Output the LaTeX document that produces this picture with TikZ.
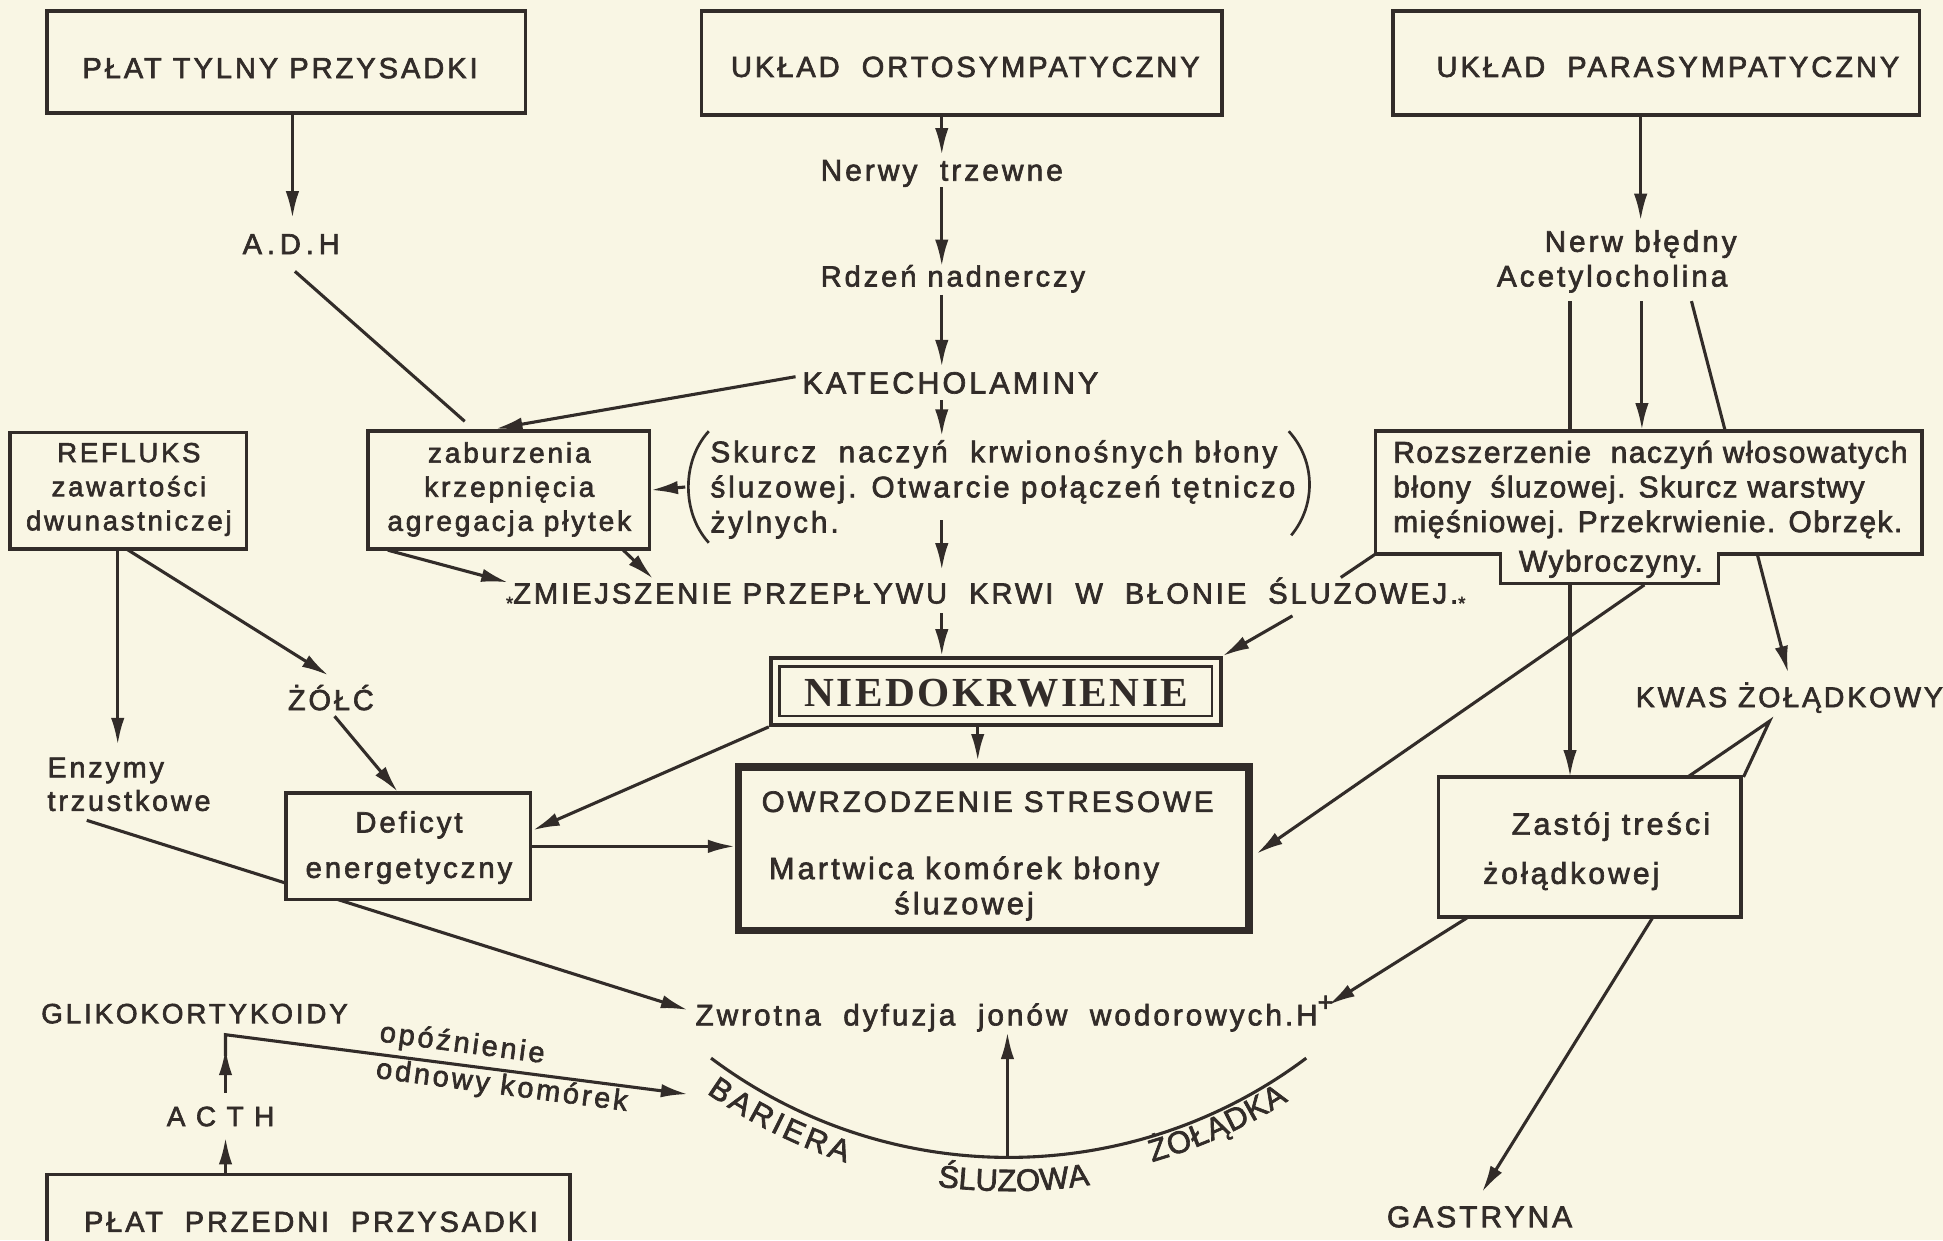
\documentclass[tikz,border=0pt]{standalone}
\usepackage{fontspec}
\setmainfont{Liberation Sans}
\newfontfamily\lab[LetterSpace=10,FakeBold=2.2]{Liberation Sans}
\newfontfamily\labn[LetterSpace=5,FakeBold=2.2]{Liberation Sans}
\newfontfamily\serb[LetterSpace=6]{Liberation Serif}
\usetikzlibrary{arrows.meta,fit,decorations.text}
\definecolor{paper}{RGB}{249,246,228}
\definecolor{ink}{RGB}{50,44,41}
\newcommand\fsz[2]{\fontsize{#1pt}{#2pt}\selectfont}
\newcommand\arcfont{\lab\fsz{15}{17}}
\pgfdeclarelayer{bg}
\pgfdeclarelayer{back}
\pgfsetlayers{bg,back,main}
\begin{document}
\begin{tikzpicture}[x=0.6pt,y=-0.6pt,
  every node/.style={inner sep=0pt,text=ink},
  box/.style={draw=ink,line width=1.7pt,fill=paper},
  ln/.style={draw=ink,line width=1.5pt},
  arr/.style={ln,-{Latex[length=13pt,width=6.5pt]}},
  lbl/.style={font=\lab\fsz{14}{16.8}},
  lbltop/.style={font=\lab\fsz{14.1}{16}},
]
\begin{pgfonlayer}{bg}
\fill[paper] (0,0) rectangle (1568,1001);
\end{pgfonlayer}
\useasboundingbox (0,0) rectangle (1568,1001);

% ---------- lines passing behind boxes ----------
\begin{pgfonlayer}{back}
\draw[arr] (70,662) -- (555,815);
\draw[arr] (1267,243) -- (1267,627);
\draw[arr] (1365,243) -- (1443,543);
\end{pgfonlayer}

% ---------- top boxes ----------
\node[box,fit={(38,9) (424,91)}] (b1) {};
\node[lbltop] (t1) at (226,55) {PŁAT TYLNY PRZYSADKI};
\node[box,fit={(566,9) (986,93)}] (b2) {};
\node[lbltop] (t2) at (779,54) {UKŁAD\ \ ORTOSYMPATYCZNY};
\node[box,fit={(1124,9) (1549,93)}] (b3) {};
\node[lbltop] (t3) at (1346,54) {UKŁAD\ \ PARASYMPATYCZNY};

% ---------- left column top ----------
\node[lbltop] (adh) at (235,197) {A\,.\,D\,.\,H};
\coordinate (adhIn) at (236,176);
\draw[arr] (b1.south -| adhIn) -- (adhIn);

\node[box,fit={(297,348) (524,443)}] (zab) {};
\node[lbl,align=center,font=\lab\fsz{13.6}{16.5}] (zabt) at (411,395) {zaburzenia\\krzepnięcia\\agregacja płytek};
\coordinate (adhOut) at (238,219);
\coordinate (zabTop) at (375,340);
\draw[ln] (adhOut) -- (zabTop);

% ---------- central chain ----------
\coordinate (ax) at (760,0);
\node[lbl,font=\lab\fsz{14.5}{16}] (nerwy) at (760,140) {Nerwy\ \ trzewne};
\node[lbl,font=\lab\fsz{14.1}{16}] (rdzen) at (769,225) {Rdzeń nadnerczy};
\node[lbl,font=\lab\fsz{14.8}{16}] (kat) at (767,309) {KATECHOLAMINY};
\draw[arr] (b2.south -| ax) -- (760,125);
\draw[arr] (760,151) -- (760,215);
\draw[arr] (760,238) -- (760,296);
\draw[arr] (760,323) -- (760,352);
\draw[arr] (760,420) -- (760,460);
\coordinate (katL) at (642,304);
\coordinate (zabIn) at (400,346);
\draw[arr] (katL) -- (zabIn);

\node[lbl,align=left,anchor=west,font=\lab\fsz{14.4}{17}] (skurcz) at (573,395)
  {Skurcz\ \ naczyń\ \ krwionośnych błony\\śluzowej. Otwarcie połączeń tętniczo\\żylnych.};
\draw[ln,line width=1.3pt] (572,348) .. controls (550,372) and (550,414) .. (572,438);
\draw[ln,line width=1.3pt] (1040,348) .. controls (1062,372) and (1062,408) .. (1042,432);
\coordinate (skL) at (553,393);
\draw[arr] (skL) -- (zab.east);

\node[lbl,anchor=west,font=\lab\fsz{14.1}{15}] (zmn) at (408,479)
  {\raisebox{-0.4ex}{\fsz{9}{10}*}ZMIEJSZENIE PRZEPŁYWU\ \ KRWI\ \ W\ \ BŁONIE\ \ ŚLUZOWEJ.\raisebox{-0.4ex}{\fsz{9}{10}*}};
\draw[arr] (313,444) -- (410,470);
\draw[arr] (503,444) -- (527,467);

% ---------- NIEDOKRWIENIE ----------
\node[draw=ink,line width=1.9pt,fit={(622,531) (985,585)}] (niedo) {};
\node[draw=ink,line width=1.2pt,fit={(629,538) (978,578)}] (niedoin) {};
\node[font=\serb\bfseries\fsz{20}{21}] (niedot) at (804,559) {NIEDOKRWIENIE};
\draw[arr] (760,495) -- (niedo.north -| ax);

% ---------- OWRZODZENIE ----------
\node[draw=ink,line width=3.6pt,fit={(596,619) (1008,751)}] (owrz) {};
\node[lbl,font=\lab\fsz{14.3}{16}] (owrzt) at (797,647) {OWRZODZENIE STRESOWE};
\node[lbl,align=center,font=\lab\fsz{14.9}{17}] (martw) at (778,717) {Martwica komórek błony\\śluzowej};
\draw[arr] (789,587) -- (789,614);

% ---------- Deficyt ----------
\node[box,fit={(231,640) (428,726)}] (def) {};
\node[lbl,align=center,font=\lab\fsz{14.2}{22}] (deft) at (330,684) {Deficyt\\energetyczny};
\draw[arr] (niedo.south west) -- (430,670);
\draw[arr] (def.east) -- (def.east -| owrz.west);

% ---------- REFLUKS ----------
\node[box,fit={(8,349) (199,443)}] (refl) {};
\node[lbl,align=center,font=\lab\fsz{13.3}{16.5}] (reflt) at (104,395) {REFLUKS\\zawartości\\dwunastniczej};
\node[lbl,align=left,anchor=west,font=\lab\fsz{13.9}{16.2}] (enz) at (38,633) {Enzymy\\trzustkowe};
\node[lbl] (zolc) at (267,563) {ŻÓŁĆ};
\draw[arr] (95,443) -- (95,601);
\draw[arr] (102,443) -- (265,545);
\draw[arr] (270,578) -- (321,639);

% ---------- Zwrotna ----------
\node[lbl,anchor=west,font=\lab\fsz{14.4}{16}] (zwr) at (561,818)
  {Zwrotna\ \ dyfuzja\ \ jonów\ \ wodorowych.H\raisebox{0.9ex}{\fsz{13}{13}+}};

% ---------- right column ----------
\node[lbl,font=\lab\fsz{14.4}{16}] (nb) at (1324,197) {Nerw błędny};
\node[lbl,font=\lab\fsz{14.4}{16}] (acet) at (1301,225) {Acetylocholina};
\coordinate (bx) at (1324,0);
\draw[arr] (b3.south -| bx) -- (1324,178);
\draw[arr] (1325,243) -- (1325,347);

\draw[box] (1110,348) -- (1551,348) -- (1551,447) -- (1387,447) -- (1387,471)
  -- (1211,471) -- (1211,447) -- (1110,447) -- cycle;
\node[fit={(1110,348) (1551,447)}] (rozs) {};
\node[lbl,align=left,anchor=west,font=\labn\fsz{14.5}{16.8}] (rozst) at (1124,395)
  {Rozszerzenie\ \ naczyń włosowatych\\błony\ \ śluzowej. Skurcz warstwy\\mięśniowej. Przekrwienie. Obrzęk.};
\node[lbl,font=\labn\fsz{14.5}{16}] (wybr) at (1300,455) {Wybroczyny.};
\draw[ln] (rozs.south west) -- (1082,466);
\draw[arr] (1043,497) -- (niedo.north east);
\draw[arr] (1327,472) -- (1014,689);

\node[lbl,font=\lab\fsz{13.8}{14}] (kwas) at (1444,563) {KWAS ŻOŁĄDKOWY};
\node[box,fit={(1161,627) (1405,740)}] (zast) {};
\node[lbl,font=\lab\fsz{14.8}{16}] (zast1) at (1300,667) {Zastój treści};
\node[lbl,font=\lab\fsz{14.6}{16}] (zast2) at (1268,707) {żołądkowej};
\draw[ln] (1362,627) -- (1428,582) -- (1407,627);
\draw[arr] (1185,740) -- (1072,811);
\draw[arr] (1334,740) -- (1196,962);
\node[lbl,font=\lab\fsz{14.5}{16}] (gas) at (1194,982) {GASTRYNA};

% ---------- bottom left ----------
\node[lbl,font=\lab\fsz{13.5}{16}] (gliko) at (157,818) {GLIKOKORTYKOIDY};
\node[lbl,font=\lab\fsz{13.5}{16}] (acth) at (178,901) {A C T H};
\node[box,fit={(38,948) (460,1040)}] (przed) {};
\node[lbl] (przedt) at (251,986) {PŁAT\ \ PRZEDNI\ \ PRZYSADKI};
\draw[arr] (182,948) -- (182,918);
\draw[arr] (182,882) -- (182,846);
\draw[arr] (182,852) -- (182,835) -- (555,883);
\node[lbl,rotate=-7.5] (opoz) at (373,843) {opóźnienie};
\node[lbl,rotate=-7.5] (odn) at (405,877) {odnowy komórek};

% ---------- barrier ----------
\draw[ln] (573.8,853.9) arc[start angle=126.9,end angle=53.1,radius=400];
\draw[arr] (813,934) -- (813,833);
\path[decorate,decoration={text along path,text={|\arcfont|BARIERA},text align={fit to path},text color=ink}]
  (570.2,882.1) arc[start angle=125,end angle=108,radius=425];
\path[decorate,decoration={text along path,text={|\arcfont|ŚLUZOWA},text align={fit to path},text color=ink}]
  (756.5,957.4) arc[start angle=97.7,end angle=82.1,radius=427];
\path[decorate,decoration={text along path,text={|\arcfont|ŻOŁĄDKA},text align={fit to path},text color=ink}]
  (929.8,937.7) arc[start angle=74,end angle=57.5,radius=420];
\end{tikzpicture}
\end{document}
